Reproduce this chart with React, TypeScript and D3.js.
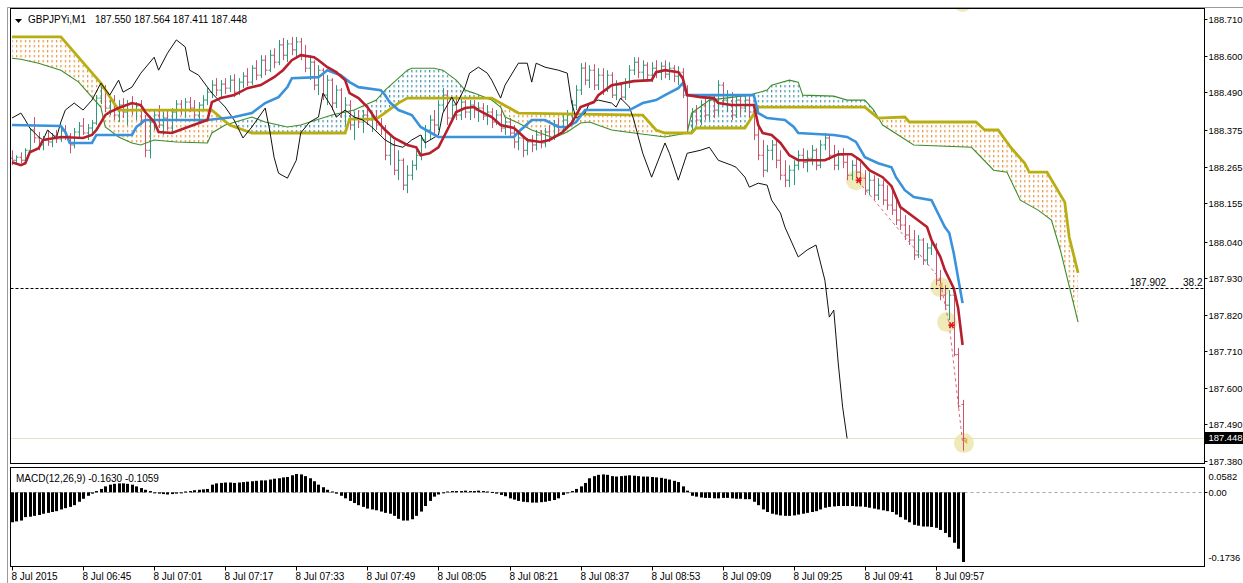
import React from "react";
import * as d3 from "d3";

// ---------- DATA (prices stored in points: price = 187 + v / 1000) ----------
// bar index 0 = 8 Jul 06:29, M1 bars, last bar = index 214
const opens = [
  1291,1285,1294,1285,1315,1376,1352,1331,1346,1340,
  1358,1349,1373,1358,1331,1370,1388,1367,1382,1397,
  1472,1502,1442,1466,1421,1451,1430,1454,1436,1448,
  1406,1315,1400,1421,1391,1412,1382,1430,1454,1436,
  1460,1442,1421,1451,1466,1490,1511,1496,1514,1502,
  1526,1490,1520,1538,1520,1562,1541,1586,1556,1601,
  1580,1632,1601,1635,1617,1641,1601,1562,1580,1511,
  1556,1481,1526,1457,1496,1430,1451,1391,1412,1400,
  1421,1406,1412,1391,1382,1300,1331,1255,1285,1210,
  1240,1270,1300,1346,1376,1406,1391,1451,1481,1412,
  1451,1421,1460,1430,1451,1436,1442,1418,1430,1400,
  1421,1382,1400,1367,1340,1352,1315,1340,1331,1361,
  1337,1370,1352,1391,1376,1406,1421,1451,1496,1562,
  1526,1556,1511,1541,1496,1541,1481,1511,1475,1520,
  1556,1580,1550,1571,1541,1562,1550,1568,1544,1562,
  1538,1550,1481,1391,1430,1406,1451,1421,1466,1436,
  1511,1466,1481,1421,1466,1442,1466,1430,1361,1300,
  1255,1315,1331,1285,1240,1225,1255,1270,1300,1279,
  1291,1315,1270,1331,1352,1300,1270,1300,1279,1240,
  1270,1249,1231,1195,1225,1180,1210,1165,1150,1135,
  1105,1090,1060,1045,1000,1045,985,1021,1030,924,
  879,849,879,700,550,
];
const highs = [
  1315,1300,1309,1321,1382,1415,1370,1358,1376,1367,
  1376,1382,1391,1367,1382,1400,1412,1394,1406,1481,
  1517,1511,1478,1481,1466,1472,1466,1478,1460,1466,
  1421,1412,1436,1451,1430,1436,1442,1466,1466,1472,
  1475,1466,1460,1481,1502,1526,1532,1526,1532,1541,
  1544,1532,1550,1562,1571,1586,1601,1601,1617,1622,
  1647,1653,1647,1656,1656,1653,1632,1601,1586,1571,
  1562,1541,1532,1511,1502,1475,1466,1430,1436,1436,
  1442,1430,1436,1412,1391,1361,1346,1315,1291,1270,
  1285,1315,1361,1391,1421,1436,1466,1502,1496,1466,
  1481,1472,1466,1466,1466,1460,1457,1451,1442,1436,
  1436,1412,1412,1391,1376,1361,1352,1361,1376,1376,
  1382,1391,1406,1412,1421,1436,1466,1511,1577,1580,
  1571,1574,1562,1562,1556,1550,1526,1520,1532,1571,
  1595,1595,1586,1580,1580,1586,1580,1586,1580,1571,
  1568,1562,1511,1442,1451,1466,1472,1481,1481,1526,
  1520,1496,1490,1481,1481,1481,1475,1436,1391,1346,
  1331,1346,1346,1315,1285,1270,1285,1315,1321,1315,
  1331,1321,1346,1367,1361,1331,1315,1321,1300,1285,
  1291,1279,1255,1249,1240,1231,1225,1210,1195,1165,
  1150,1120,1090,1075,1060,1051,1036,1045,1036,955,
  909,894,879,720,564,
];
const lows = [
  1270,1273,1276,1279,1309,1337,1315,1315,1328,1324,
  1337,1340,1346,1306,1321,1352,1361,1346,1361,1391,
  1454,1430,1421,1406,1400,1412,1391,1421,1406,1391,
  1294,1291,1376,1382,1361,1376,1367,1406,1421,1412,
  1430,1406,1400,1436,1451,1472,1478,1472,1484,1490,
  1475,1481,1502,1508,1511,1526,1532,1541,1550,1562,
  1571,1586,1580,1601,1592,1586,1550,1526,1496,1481,
  1466,1451,1436,1442,1412,1391,1376,1346,1382,1367,
  1391,1370,1376,1361,1285,1270,1240,1225,1195,1186,
  1225,1255,1285,1321,1346,1361,1376,1430,1391,1400,
  1406,1406,1412,1406,1412,1400,1406,1391,1382,1391,
  1370,1361,1352,1321,1315,1294,1300,1309,1315,1321,
  1324,1340,1346,1361,1367,1382,1406,1436,1481,1511,
  1502,1496,1496,1481,1490,1472,1466,1466,1466,1502,
  1541,1532,1526,1526,1520,1532,1526,1532,1526,1520,
  1511,1472,1376,1376,1391,1391,1406,1406,1412,1421,
  1451,1430,1406,1412,1421,1430,1412,1346,1285,1234,
  1249,1285,1261,1225,1204,1204,1210,1255,1261,1249,
  1270,1255,1261,1315,1285,1255,1255,1261,1225,1225,
  1231,1210,1180,1180,1165,1165,1150,1135,1120,1090,
  1075,1045,1030,985,991,970,970,1000,909,864,
  834,804,695,540,411,
];
const closes = [
  1285,1294,1285,1315,1376,1352,1331,1346,1340,1358,
  1349,1373,1358,1331,1370,1388,1367,1382,1397,1472,
  1502,1442,1466,1421,1451,1430,1454,1436,1448,1406,
  1315,1400,1421,1391,1412,1382,1430,1454,1436,1460,
  1442,1421,1451,1466,1490,1511,1496,1514,1502,1526,
  1490,1520,1538,1520,1562,1541,1586,1556,1601,1580,
  1632,1601,1635,1617,1641,1601,1562,1580,1511,1556,
  1481,1526,1457,1496,1430,1451,1391,1412,1400,1421,
  1406,1412,1391,1382,1300,1331,1255,1285,1210,1240,
  1270,1300,1346,1376,1406,1391,1451,1481,1412,1451,
  1421,1460,1430,1451,1436,1442,1418,1430,1400,1421,
  1382,1400,1367,1340,1352,1315,1340,1331,1361,1337,
  1370,1352,1391,1376,1406,1421,1451,1496,1562,1526,
  1556,1511,1541,1496,1541,1481,1511,1475,1520,1556,
  1580,1550,1571,1541,1562,1550,1568,1544,1562,1538,
  1550,1481,1391,1430,1406,1451,1421,1466,1436,1511,
  1466,1481,1421,1466,1442,1466,1430,1361,1300,1255,
  1315,1331,1285,1240,1225,1255,1270,1300,1279,1291,
  1315,1270,1331,1352,1300,1270,1300,1279,1240,1270,
  1249,1231,1195,1225,1180,1210,1165,1150,1135,1105,
  1090,1060,1045,1000,1045,985,1021,1030,924,879,
  849,879,700,545,448,
];

// Ichimoku lines: [bar index, points]
const tenkanSen = [[0,1279],[2,1270],[3,1276],[4,1309],[6,1321],[7,1346],[11,1355],[16,1352],[18,1361],[19,1376],[21,1421],[22,1430],[24,1442],[27,1457],[29,1451],[30,1430],[32,1400],[33,1370],[36,1367],[39,1382],[44,1406],[45,1460],[47,1472],[50,1481],[53,1502],[56,1511],[59,1535],[61,1556],[63,1586],[65,1601],[68,1595],[69,1586],[71,1565],[73,1550],[75,1526],[76,1487],[78,1472],[80,1445],[82,1406],[84,1376],[86,1352],[89,1331],[91,1324],[92,1300],[94,1306],[96,1324],[98,1376],[100,1430],[102,1442],[104,1445],[105,1436],[108,1415],[110,1391],[113,1382],[114,1370],[116,1346],[119,1340],[121,1346],[124,1370],[126,1397],[128,1445],[131,1460],[132,1481],[135,1511],[140,1523],[144,1526],[145,1550],[147,1556],[150,1550],[151,1532],[152,1481],[155,1475],[158,1472],[159,1457],[162,1451],[167,1451],[168,1391],[169,1367],[171,1361],[173,1337],[175,1300],[177,1285],[183,1285],[186,1303],[189,1303],[191,1285],[193,1255],[196,1234],[198,1207],[200,1144],[203,1114],[206,1084],[207,1045],[209,994],[210,955],[212,900],[213,840],[214,729]];
const kijunSen = [[0,1391],[11,1388],[12,1370],[13,1337],[18,1337],[19,1361],[27,1361],[28,1385],[30,1406],[44,1406],[50,1415],[54,1427],[57,1457],[60,1475],[62,1505],[63,1532],[69,1535],[71,1556],[74,1541],[76,1520],[78,1505],[83,1496],[84,1481],[85,1460],[87,1436],[90,1421],[92,1385],[94,1370],[96,1355],[113,1355],[114,1370],[117,1406],[120,1406],[123,1385],[125,1385],[127,1400],[129,1436],[139,1436],[142,1457],[145,1466],[147,1481],[150,1502],[151,1517],[152,1481],[167,1481],[168,1427],[170,1412],[174,1406],[176,1385],[177,1367],[185,1361],[188,1355],[190,1340],[192,1294],[195,1276],[198,1264],[199,1234],[201,1195],[203,1174],[207,1165],[210,1084],[211,1066],[212,1006],[214,855]];
const senkouA = [[0,1656],[11,1656],[20,1517],[24,1436],[45,1436],[49,1391],[54,1367],[75,1367],[76,1409],[82,1409],[87,1457],[89,1472],[108,1472],[114,1427],[142,1421],[145,1376],[147,1367],[153,1367],[154,1382],[165,1382],[168,1445],[192,1445],[195,1412],[201,1415],[202,1400],[217,1400],[219,1376],[222,1376],[225,1321],[228,1276],[229,1249],[233,1249],[237,1159],[238,1054],[240,946]];
const senkouB = [[0,1592],[2,1589],[6,1577],[11,1556],[15,1520],[18,1475],[20,1445],[21,1385],[24,1355],[27,1337],[29,1331],[32,1346],[37,1340],[44,1337],[45,1367],[48,1391],[54,1415],[57,1400],[62,1385],[65,1391],[72,1421],[77,1436],[82,1466],[84,1496],[89,1556],[90,1562],[95,1562],[97,1556],[100,1526],[102,1496],[104,1487],[108,1466],[110,1445],[111,1415],[114,1397],[117,1376],[122,1352],[125,1370],[128,1397],[130,1400],[135,1376],[140,1367],[147,1355],[152,1367],[153,1427],[157,1466],[166,1481],[170,1496],[171,1511],[175,1526],[177,1520],[178,1481],[185,1478],[188,1466],[192,1466],[194,1436],[196,1391],[203,1331],[216,1324],[221,1255],[224,1249],[227,1165],[231,1135],[234,1105],[236,1015],[240,798]];
const chikouSpan = [[0,1412],[2,1427],[3,1406],[4,1382],[6,1355],[7,1346],[8,1376],[10,1352],[11,1400],[12,1436],[14,1457],[16,1436],[18,1466],[20,1517],[22,1481],[24,1526],[25,1490],[27,1505],[29,1547],[32,1595],[33,1556],[35,1607],[37,1647],[39,1626],[40,1556],[42,1541],[45,1487],[48,1445],[50,1406],[52,1352],[54,1385],[57,1442],[58,1376],[59,1294],[60,1246],[62,1231],[64,1285],[65,1367],[67,1400],[69,1415],[70,1487],[72,1445],[73,1415],[75,1436],[77,1415],[79,1406],[81,1385],[84,1346],[86,1331],[88,1324],[90,1346],[92,1361],[93,1337],[96,1361],[97,1427],[99,1475],[100,1451],[102,1505],[103,1547],[104,1556],[105,1565],[107,1547],[108,1526],[110,1472],[111,1511],[114,1577],[116,1577],[117,1520],[118,1577],[120,1565],[123,1556],[125,1547],[126,1457],[127,1412],[129,1427],[130,1457],[132,1466],[135,1457],[136,1445],[137,1472],[139,1445],[140,1406],[141,1355],[142,1306],[144,1234],[147,1337],[148,1306],[150,1225],[152,1306],[155,1315],[157,1324],[159,1285],[162,1270],[163,1264],[165,1234],[166,1204],[168,1216],[170,1210],[171,1165],[173,1126],[174,1084],[177,994],[179,1015],[181,1030],[183,924],[184,813],[185,834],[186,675],[187,542],[188,448]];

// MACD histogram, in thousandths
const macdHist = [
  -70,-68,-66,-58,-57,-55,-53,-50,-48,-46,
  -44,-40,-37,-34,-30,-22,-15,-8,-3,3,
  8,14,18,20,21,21,20,18,14,10,
  6,3,-2,-3,-4,-5,-4,-3,-2,2,
  3,5,6,7,8,18,21,22,23,23,
  22,23,24,25,26,27,28,28,30,32,
  33,35,36,40,43,42,38,33,26,18,
  12,6,2,-3,-8,-14,-20,-25,-30,-34,
  -38,-40,-42,-45,-48,-50,-55,-62,-66,-66,
  -63,-55,-45,-32,-20,-10,-5,-2,2,3,
  3,3,4,3,3,4,3,2,1,-3,
  -6,-9,-14,-17,-20,-22,-23,-24,-24,-23,
  -22,-20,-18,-14,-6,-2,3,8,14,22,
  33,38,41,42,41,38,37,38,39,40,
  39,38,37,37,36,35,34,32,30,27,
  24,14,4,-8,-10,-12,-13,-13,-14,-14,
  -13,-13,-14,-15,-15,-16,-16,-22,-30,-40,
  -46,-50,-52,-54,-55,-55,-54,-52,-50,-48,
  -46,-44,-40,-36,-34,-33,-32,-32,-32,-32,
  -33,-33,-34,-36,-38,-40,-42,-44,-46,-52,
  -58,-64,-70,-76,-78,-80,-80,-81,-83,-88,
  -95,-105,-118,-132,-163,
];

const priceTicks = ["188.710","188.600","188.490","188.375","188.265","188.155","188.040","187.930","187.820","187.710","187.600","187.490","187.380"];
const timeLabels = ["8 Jul 2015","8 Jul 06:45","8 Jul 07:01","8 Jul 07:17","8 Jul 07:33","8 Jul 07:49","8 Jul 08:05","8 Jul 08:21","8 Jul 08:37","8 Jul 08:53","8 Jul 09:09","8 Jul 09:25","8 Jul 09:41","8 Jul 09:57"];
const timeLabelBars = [0,16,32,48,64,80,96,112,128,144,160,176,192,208];
const macdTicks = [0.0582, 0.0, -0.1736];
const macdTickLabels = ["0.0582", "0.00", "-0.1736"];

const highlightCircles = [[190,1225],[209,903],[210.5,798],[214.3,434],[214,1761]];
const starMarks = [[190.6,1225],[211.5,789]];
const arrowMarks = [[209,909],[214.6,440]];
const zigzag = [[190.5,1222],[208.8,930],[211,790],[214,436]];
const fibLevel = 187.902;
const fibLabel = "38.2";
const bidPrice = 187.448;
const header = "GBPJPYi,M1";
const headerValues = "187.550 187.564 187.411 187.448";
const macdHeader = "MACD(12,26,9) -0.1630 -0.1059";

// ---------- LAYOUT ----------
const W = 1243, H = 583;
const BAR_PX = 4.442;
const PLOT_L = 10.5, PLOT_R = 1204.5, MAIN_T = 8.5, MAIN_B = 463.5, MACD_T = 467.5, MACD_B = 566.5;
const FONT = "'Liberation Sans', Arial, sans-serif";
const AXIS_FS = 9.4;

const UP = "#2e9b78";
const DOWN = "#c9546d";

export default function App() {
  const x = d3.scaleLinear().domain([0, 240]).range([12, 12 + 240 * BAR_PX]);
  const y = d3.scaleLinear().domain([187.38, 188.71]).range([461, 19]);
  const pr = (v: number) => 187 + v / 1000;
  const yp = (v: number) => y(pr(v));
  const yM = d3.scaleLinear().domain([-0.1736, 0.0582]).range([MACD_B, MACD_T]);
  const line = d3.line<number[]>().x((d) => x(d[0])).y((d) => yp(d[1]));

  const ptsA = senkouA.map((d) => [x(d[0]), yp(d[1])]);
  const ptsB = senkouB.map((d) => [x(d[0]), yp(d[1])]);
  const between = "M" + [...ptsA, ...ptsB.slice().reverse()].map((p) => p.join(",")).join("L") + "Z";
  const below = (pts: number[][]) =>
    "M" + [...pts, [pts[pts.length - 1][0], MAIN_B], [pts[0][0], MAIN_B]].map((p) => p.join(",")).join("L") + "Z";

  const bars = opens.map((o, i) => ({ i, o, h: highs[i], l: lows[i], c: closes[i] }));

  return (
    <div style={{ position: "absolute", left: 0, top: 0, width: W, height: H, overflow: "hidden", background: "#fff" }}>
      <svg width={W} height={H} style={{ display: "block", fontFamily: FONT }}>
        <defs>
          <pattern id="hatchO" patternUnits="userSpaceOnUse" x={x(0) - 0.5} y={0} width={BAR_PX} height={5}>
            <rect x={0} y={0} width={1.2} height={2.4} fill="#e5953d" />
          </pattern>
          <pattern id="hatchT" patternUnits="userSpaceOnUse" x={x(0) - 0.5} y={0} width={BAR_PX} height={5}>
            <rect x={0} y={0} width={1.2} height={2.4} fill="#3f93ab" />
          </pattern>
          <clipPath id="clipA"><path d={below(ptsA)} /></clipPath>
          <clipPath id="clipB"><path d={below(ptsB)} /></clipPath>
          <clipPath id="mainClip"><rect x={PLOT_L} y={MAIN_T} width={PLOT_R - PLOT_L} height={MAIN_B - MAIN_T} /></clipPath>
        </defs>
        <rect x={0} y={0} width={W} height={H} fill="#fff" />

        {/* outer frame */}
        <line x1={7.5} x2={W} y1={7.5} y2={7.5} stroke="#9a9a9a" />
        <line x1={7.5} x2={7.5} y1={7.5} y2={H} stroke="#9a9a9a" />

        <g clipPath="url(#mainClip)">
          {/* bid price line */}
          <line x1={PLOT_L} x2={PLOT_R} y1={Math.round(y(bidPrice)) + 0.5} y2={Math.round(y(bidPrice)) + 0.5} stroke="#e6e2bb" />
          {/* cloud hatch */}
          <path d={between} fill="url(#hatchO)" clipPath="url(#clipA)" />
          <path d={between} fill="url(#hatchT)" clipPath="url(#clipB)" />
          {/* highlight circles */}
          {highlightCircles.map((d, k) => (
            <circle key={k} cx={x(d[0])} cy={yp(d[1])} r={10} fill="#ece3a6" opacity={0.8} />
          ))}
          {/* OHLC bars */}
          {bars.map((b) => {
            const xi = Math.round(x(b.i)) + 0.5;
            const col = b.c >= b.o ? UP : DOWN;
            return (
              <g key={b.i} stroke={col} strokeWidth={1}>
                <line x1={xi} x2={xi} y1={yp(b.h)} y2={yp(b.l)} />
                <line x1={xi - 2} x2={xi} y1={yp(b.o)} y2={yp(b.o)} />
                <line x1={xi} x2={xi + 2} y1={yp(b.c)} y2={yp(b.c)} />
              </g>
            );
          })}
          {/* zigzag dashed */}
          <path d={line(zigzag) || ""} fill="none" stroke="#d9687c" strokeWidth={1} strokeDasharray="3,3" />
          {/* Senkou B thin green, Senkou A olive */}
          <path d={line(senkouB) || ""} fill="none" stroke="#3d8d2c" strokeWidth={1.1} />
          <path d={line(senkouA) || ""} fill="none" stroke="#b8ae12" strokeWidth={2.8} />
          {/* Chikou */}
          <path d={line(chikouSpan) || ""} fill="none" stroke="#111" strokeWidth={1} />
          {/* Kijun */}
          <path d={line(kijunSen) || ""} fill="none" stroke="#3a92dc" strokeWidth={2.6} />
          {/* Tenkan */}
          <path d={line(tenkanSen) || ""} fill="none" stroke="#b5202c" strokeWidth={2.6} />
          {/* arrow marks */}
          {arrowMarks.map((d, k) => {
            const cx = x(d[0]), cy = yp(d[1]);
            return <path key={k} d={`M${cx - 2},${cy} L${cx + 2},${cy - 3} L${cx + 2},${cy + 3} Z`} fill="#e3b04a" />;
          })}
          {/* stars */}
          {starMarks.map((d, k) => {
            const cx = x(d[0]), cy = yp(d[1]);
            return (
              <g key={k} stroke="#e01818" strokeWidth={1.6}>
                <line x1={cx - 3} x2={cx + 3} y1={cy} y2={cy} />
                <line x1={cx - 2} x2={cx + 2} y1={cy - 3} y2={cy + 3} />
                <line x1={cx + 2} x2={cx - 2} y1={cy - 3} y2={cy + 3} />
              </g>
            );
          })}
          {/* fib level */}
          <line x1={PLOT_L} x2={PLOT_R} y1={Math.round(y(fibLevel)) + 0.5} y2={Math.round(y(fibLevel)) + 0.5} stroke="#000" strokeDasharray="3,2" />
          <text x={1130} y={Math.round(y(fibLevel)) - 2} fontSize={10} fill="#000">{fibLevel.toFixed(3)}</text>
          <text x={1183} y={Math.round(y(fibLevel)) - 2} fontSize={10} fill="#000">{fibLabel}</text>
        </g>

        {/* header */}
        <path d="M15,19 L22,19 L18.5,23 Z" fill="#000" />
        <text x={28} y={23} fontSize={10} fill="#000">{header}</text>
        <text x={95} y={23} fontSize={10} fill="#000">{headerValues}</text>

        {/* main frame */}
        <rect x={PLOT_L} y={MAIN_T} width={PLOT_R - PLOT_L} height={MAIN_B - MAIN_T} fill="none" stroke="#000" />

        {/* price axis */}
        {priceTicks.map((t) => {
          const yy = Math.round(y(parseFloat(t))) + 0.5;
          return (
            <g key={t}>
              <line x1={PLOT_R} x2={PLOT_R + 3} y1={yy} y2={yy} stroke="#000" />
              <text x={1208.5} y={yy} dy="0.35em" fontSize={AXIS_FS} fill="#000">{t}</text>
            </g>
          );
        })}
        {/* bid label */}
        <rect x={1205} y={Math.round(y(bidPrice)) - 6} width={40} height={12} fill="#000" />
        <text x={1208.5} y={Math.round(y(bidPrice))} dy="0.35em" fontSize={AXIS_FS} fill="#fff">{bidPrice.toFixed(3)}</text>

        {/* MACD panel */}
        <line x1={PLOT_L} x2={PLOT_R} y1={Math.round(yM(0)) + 0.5} y2={Math.round(yM(0)) + 0.5} stroke="#a8a8a8" strokeDasharray="3,3" />
        {macdHist.map((v, i) => {
          const val = v / 1000;
          const y0 = yM(0), y1 = yM(val);
          return (
            <rect key={i} x={Math.round(x(i)) - 1} y={Math.min(y0, y1)} width={3} height={Math.max(1, Math.abs(y1 - y0))} fill="#000" />
          );
        })}
        <text x={16} y={482} fontSize={10} fill="#000">{macdHeader}</text>
        <rect x={PLOT_L} y={MACD_T} width={PLOT_R - PLOT_L} height={MACD_B - MACD_T} fill="none" stroke="#000" />
        {macdTicks.map((v, k) => {
          const off = k === 0 ? 9 : k === macdTicks.length - 1 ? -9 : 0;
          const yy = yM(v) + off;
          return (
            <g key={k}>
              {k === 1 && <line x1={PLOT_R} x2={PLOT_R + 3} y1={Math.round(yy) + 0.5} y2={Math.round(yy) + 0.5} stroke="#000" />}
              <text x={1208.5} y={yy} dy="0.35em" fontSize={AXIS_FS} fill="#000">{macdTickLabels[k]}</text>
            </g>
          );
        })}

        {/* time axis */}
        {timeLabels.map((t, k) => {
          const xx = Math.round(x(timeLabelBars[k])) + 0.5;
          return (
            <g key={t}>
              <line x1={xx} x2={xx} y1={MACD_B} y2={MACD_B + 4} stroke="#000" />
              <text x={xx - 1} y={580} fontSize={10} fill="#000">{t}</text>
            </g>
          );
        })}
      </svg>
    </div>
  );
}
